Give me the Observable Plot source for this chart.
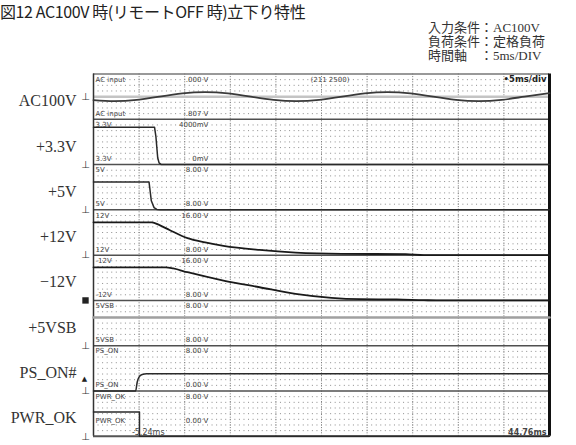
<!DOCTYPE html>
<html><head><meta charset="utf-8">
<script src="https://cdn.jsdelivr.net/npm/d3@7"></script>
<script src="https://cdn.jsdelivr.net/npm/@observablehq/plot@0.6"></script>
<style>
html,body{margin:0;padding:0;background:#fff;}
#wrap{position:relative;width:576px;height:445px;overflow:hidden;}
#chart{position:absolute;left:0;top:0;}
#title{position:absolute;left:0;top:2px;font-family:"Noto Sans CJK JP";font-size:16px;line-height:18px;letter-spacing:-0.4px;color:#222;white-space:nowrap;}
#sub{position:absolute;left:428px;top:21px;font-family:"Liberation Serif","Noto Sans CJK JP";font-size:13px;line-height:14px;color:#333;white-space:pre;}
</style></head>
<body><div id="wrap"><div id="chart"></div><div id="title">図12 AC100V 時(リモートOFF 時)立下り特性</div><div id="sub">入力条件：AC100V
負荷条件：定格負荷
時間軸　：5ms/DIV</div></div>
<script>
// ---- data ----
const channels = ["AC100V", "+3.3V", "+5V", "+12V", "−12V", "+5VSB", "PS_ON#", "PWR_OK"];

const acTime  = [-5.24, -2.99, -0.49, 2.01, 4.51, 7.01, 9.51, 12.01, 14.51, 17.01, 19.51, 22.01, 24.51, 27.01, 29.51, 32.01, 34.51, 37.01, 39.51, 42.01, 44.76];
const acVolts = [-107, -141, -100, 0, 100, 141, 100, 0, -100, -141, -100, 0, 100, 141, 100, 0, -100, -141, -100, 0, 107];

const v33Time  = [-5.24, 1.45, 1.6, 1.8, 1.95, 2.2, 44.76];
const v33Volts = [3.3, 3.3, 2.5, 0.6, 0.15, 0, 0];

const v5Time  = [-5.24, 0.85, 0.95, 1.1, 1.4, 1.7, 2.1, 44.76];
const v5Volts = [4.9, 4.9, 3.6, 1.6, 0.4, 0.08, 0, 0];

const v12Time  = [-5.24, 1.16, 2.0, 3.09, 5.07, 7.0, 9.01, 12.97, 16.92, 22, 29, 31, 44.76];
const v12Volts = [11.6, 11.6, 10.6, 8.9, 6.0, 4.5, 3.3, 1.85, 0.9, 0.45, 0.35, 0, 0];

const vm12Time  = [-5.24, 2.7, 3.5, 5.07, 9.01, 12.97, 16.92, 20.86, 24, 28, 31, 33, 44.76];
const vm12Volts = [-11.7, -11.7, -11.3, -9.96, -7.03, -4.66, -2.33, -0.92, -0.45, -0.35, -0.1, 0, 0];

const vsbTime  = [-5.24, 44.76];
const vsbVolts = [5.0, 5.0];

const psonTime  = [-5.24, -0.62, -0.45, -0.25, 0.1, 0.6, 44.76];
const psonVolts = [0, 0, 1.55, 2.44, 2.91, 3.04, 3.05];

const pwrokTime  = [-5.24, -0.2, -0.2, 44.76];
const pwrokVolts = [4.3, 4.3, 0, 0];

const headerNames  = ["AC input", "3.3V", "5V", "12V", "-12V", "5VSB", "PS_ON", "PWR_OK"];
const headerValues = [".000 V", "4000mV", "8.00 V", "16.00 V", "16.00 V", "8.00 V", "8.00 V", "8.00 V"];
const footerNames  = ["AC input", "3.3V", "5V", "12V", "-12V", "5VSB", "PS_ON", "PWR_OK"];
const footerValues = ["-.807 V", "0mV", "-8.00 V", "8.00 V", "8.00 V", "8.00 V", "0.00 V", "0.00 V"];
const triggerLabel = "(211 2500)";
const timebaseLabel = "•5ms/div";
const startLabel = "-5.24ms";
const endLabel = "44.76ms";
const psonTriggerLevel = 2.2;

// ---- scope settings / layout ----
const xMin = -5.24, msPerDiv = 5, nDiv = 10, xMax = xMin + msPerDiv * nDiv;
const atDiv = d => xMin + d * msPerDiv;
const voltsPerBand = [1400, 4, 8, 16, -16, 8, 8, 8];
const zeroInBand   = [0.5, 0, 0, 0, 0, 0, 0, 0];
const footerLift   = [0.13, 0.13, 0.13, 0.13, 0.13, 0.13, 0.13, 0.35];
const nb = channels.length;
const bandBottom = i => nb - 1 - i;
const toY = (i, v) => bandBottom(i) + zeroInBand[i] + v / voltsPerBand[i];
const valueX = atDiv(2.52);

const series = [
  {i: 0, t: acTime,    v: acVolts,    stroke: "#3a3a3a", w: 1.8, curve: "natural"},
  {i: 1, t: v33Time,   v: v33Volts,   stroke: "#2a2a2a", w: 1.5, curve: "linear"},
  {i: 2, t: v5Time,    v: v5Volts,    stroke: "#2a2a2a", w: 1.5, curve: "linear"},
  {i: 3, t: v12Time,   v: v12Volts,   stroke: "#1a1a1a", w: 1.8, curve: "monotone-x"},
  {i: 4, t: vm12Time,  v: vm12Volts,  stroke: "#1a1a1a", w: 1.8, curve: "monotone-x"},
  {i: 5, t: vsbTime,   v: vsbVolts,   stroke: "#a0a0a0", w: 2.5, curve: "linear"},
  {i: 6, t: psonTime,  v: psonVolts,  stroke: "#2a2a2a", w: 1.5, curve: "monotone-x"},
  {i: 7, t: pwrokTime, v: pwrokVolts, stroke: "#2a2a2a", w: 1.5, curve: "linear"}
];

const minorRows = d3.range(nb).flatMap(b => d3.range(1, 8).map(k => b + k / 8));
const divisions = d3.range(1, nDiv).map(atDiv);
const boundaries = d3.range(1, nb);
const idx = d3.range(nb);
const txt = {fontFamily: "DejaVu Sans", fontSize: 7, fill: "#444"};

const plot = Plot.plot({
  width: 576, height: 445,
  marginLeft: 93, marginRight: 27, marginTop: 73.5, marginBottom: 9.2,
  x: {domain: [xMin, xMax], axis: null},
  y: {domain: [0, nb], axis: null},
  style: {background: "transparent"},
  marks: [
    Plot.ruleY(minorRows, {stroke: "#8c8c8c", strokeWidth: 1, strokeDasharray: "1,3.56"}),
    Plot.ruleX(divisions, {stroke: "#7a7a7a", strokeWidth: 1, strokeDasharray: "1,1.6"}),
    Plot.ruleY([toY(0, 0)], {stroke: "#c4c4c4", strokeWidth: 2.5}),
    Plot.ruleY(boundaries, {stroke: "#505050", strokeWidth: 1.5}),
    // frame
    Plot.ruleY([0], {stroke: "#555", strokeWidth: 2}),
    Plot.ruleY([nb], {stroke: "#777", strokeWidth: 1.5}),
    Plot.ruleX([xMin], {stroke: "#333", strokeWidth: 1.5}),
    Plot.ruleX([xMax], {stroke: "#111", strokeWidth: 3}),
    // traces
    ...series.map(s => Plot.line(s.t.map((t, k) => ({t, y: toY(s.i, s.v[k])})),
      {x: "t", y: "y", stroke: s.stroke, strokeWidth: s.w, curve: s.curve})),
    // channel header / footer annotations
    Plot.text(idx, {x: xMin, y: i => bandBottom(i) + 1, dy: 5.5, dx: 2, text: i => headerNames[i], textAnchor: "start", ...txt}),
    Plot.text(idx, {x: valueX, y: i => bandBottom(i) + 1, dy: 5.5, text: i => headerValues[i], textAnchor: "end", ...txt}),
    Plot.text(idx, {x: xMin, y: i => bandBottom(i) + footerLift[i], dx: 2, text: i => footerNames[i], textAnchor: "start", ...txt}),
    Plot.text(idx, {x: valueX, y: i => bandBottom(i) + footerLift[i], text: i => footerValues[i], textAnchor: "end", ...txt}),
    Plot.text([triggerLabel], {x: atDiv(4.76), y: nb, dy: 5.5, text: d => d, textAnchor: "start", ...txt}),
    Plot.text([timebaseLabel], {x: xMax, y: nb, dy: 5.5, dx: -3, text: d => d, textAnchor: "end", ...txt, fontWeight: "bold", fill: "#222", fontSize: 8.5}),
    Plot.text([startLabel], {x: atDiv(1.2), y: 0, dy: -4, text: d => d, textAnchor: "middle", ...txt, fontSize: 8}),
    Plot.text([endLabel], {x: xMax, y: 0, dy: -4, dx: -3, text: d => d, textAnchor: "end", ...txt, fontSize: 8, fontWeight: "bold"}),
    // left-side channel markers
    Plot.text(idx.filter(i => i !== 4), {x: xMin, y: i => toY(i, 0), dx: -8, text: () => "⊥", fontSize: 10, fill: "#333", fontFamily: "DejaVu Sans"}),
    Plot.dot([4], {x: xMin, y: i => toY(i, 0), dx: -8, symbol: "square", r: 3.6, fill: "#222", stroke: "none"}),
    Plot.text([6], {x: xMin, y: i => toY(i, psonTriggerLevel), dx: -9, text: () => "▲", fontSize: 7, fill: "#222", fontFamily: "DejaVu Sans"}),
    // channel names
    Plot.axisY(idx.map(i => bandBottom(i) + 0.4), {
      anchor: "left", tickSize: 0, tickPadding: 17, label: null,
      tickFormat: d => channels[nb - 1 - Math.round(d - 0.4)],
      fontSize: 16, fontFamily: "Liberation Serif", fill: "#333"
    })
  ]
});
document.getElementById("chart").appendChild(plot);
</script>
</body></html>
